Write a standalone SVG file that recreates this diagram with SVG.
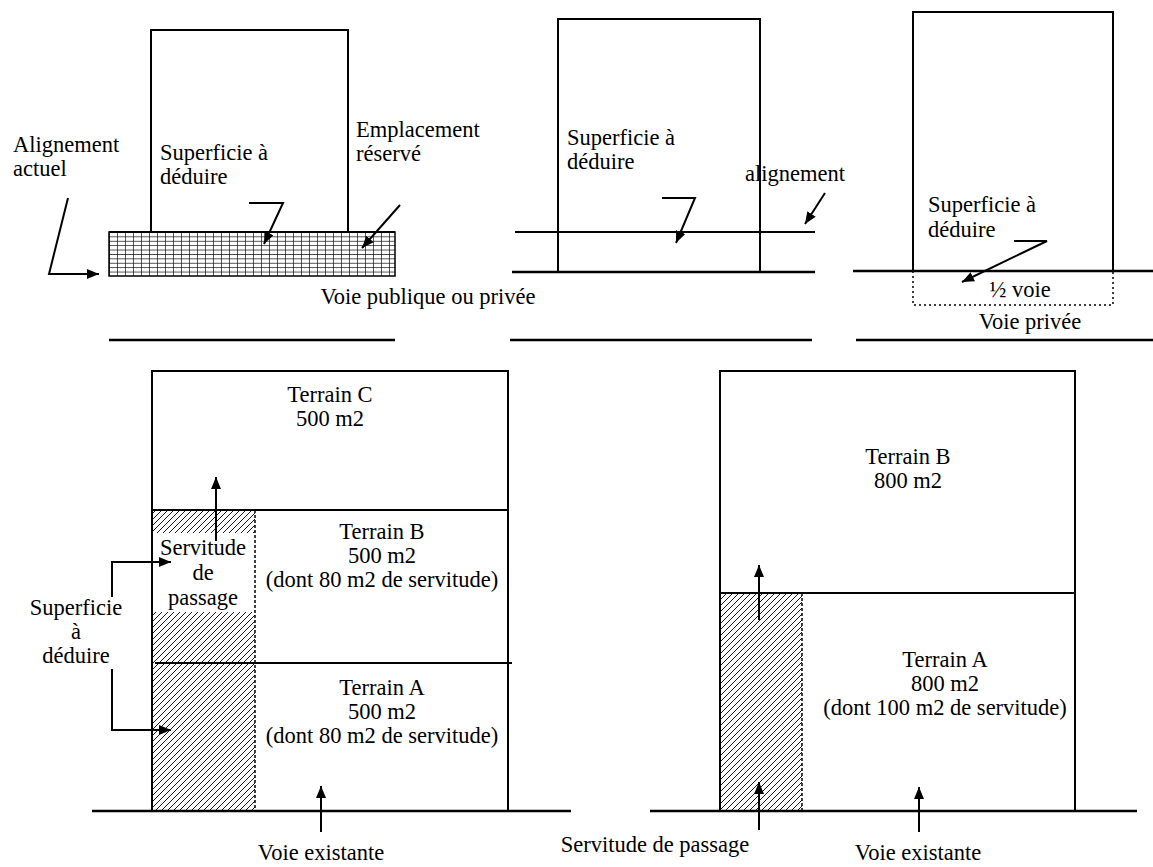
<svg xmlns="http://www.w3.org/2000/svg" width="1153" height="867" viewBox="0 0 1153 867">
<style>
.ln{stroke:#000;stroke-width:2;fill:none}
.gd{stroke:#000;stroke-width:2.4;fill:none}
.ds{stroke:#000;stroke-width:1.5;fill:none;stroke-dasharray:3,2}
.dt{stroke:#000;stroke-width:1.5;fill:none;stroke-dasharray:2,3}
.ar{stroke:#000;stroke-width:2;fill:none;marker-end:url(#ah)}
text{font-family:"Liberation Serif","Times New Roman",serif;font-size:22.5px;fill:#000}
.c{text-anchor:middle}
</style>
<defs>
<marker id="ah" markerUnits="userSpaceOnUse" markerWidth="13" markerHeight="10" refX="12" refY="5" orient="auto">
<path d="M0,0 L12,5 L0,10 z" fill="#000"/>
</marker>
<pattern id="grid" patternUnits="userSpaceOnUse" x="109" y="232" width="8" height="4.4">
<path d="M0,0 H8 M0,0 V4.4" stroke="#000" stroke-width="1.3" fill="none"/>
</pattern>
<pattern id="hatch" patternUnits="userSpaceOnUse" width="6" height="6">
<path d="M-1,1 L1,-1 M0,6 L6,0 M5,7 L7,5" stroke="#000" stroke-width="0.9"/>
</pattern>
</defs>
<rect width="1153" height="867" fill="#fff"/>

<g id="diagram1">
<rect x="151" y="30" width="197" height="202" class="ln"/>
<rect x="109" y="232" width="286" height="44" fill="url(#grid)" stroke="#000" stroke-width="1.5"/>
<line x1="109" y1="232" x2="395" y2="232" class="ln"/>
<line x1="109" y1="340" x2="395" y2="340" class="gd"/>
<text x="13" y="152">Alignement</text>
<text x="13" y="176">actuel</text>
<text x="160" y="160">Superficie à</text>
<text x="160" y="184">déduire</text>
<text x="356" y="137">Emplacement</text>
<text x="356" y="161">réservé</text>
</g>

<g id="label-voie-publique">
<text x="428" y="304" class="c">Voie publique ou privée</text>
</g>

<g id="diagram2">
<rect x="558" y="19" width="202" height="253" class="ln"/>
<line x1="515" y1="232" x2="815" y2="232" class="ln"/>
<line x1="512" y1="272" x2="815" y2="272" class="gd"/>
<line x1="510" y1="340" x2="812" y2="340" class="gd"/>
<text x="567" y="145">Superficie à</text>
<text x="567" y="169">déduire</text>
<text x="745" y="181">alignement</text>
</g>

<g id="diagram3">
<rect x="913" y="12" width="200" height="259" class="ln"/>
<line x1="853" y1="271" x2="1153" y2="271" class="gd"/>
<path d="M913,271 V305 H1113 V271" class="dt"/>
<line x1="856" y1="340" x2="1153" y2="340" class="gd"/>
<text x="928" y="212">Superficie à</text>
<text x="928" y="237">déduire</text>
<text x="1020" y="297" class="c">½  voie</text>
<text x="1030" y="329" class="c">Voie privée</text>
</g>

<g id="plan-left">
<rect x="152" y="510" width="103" height="301" fill="url(#hatch)"/>
<rect x="152" y="533" width="103" height="79" fill="#fff"/>
<line x1="255" y1="510" x2="255" y2="811" class="ds"/>
<line x1="152" y1="811" x2="255" y2="811" class="ds"/>
<rect x="152" y="371" width="356" height="440" class="ln"/>
<line x1="152" y1="510" x2="508" y2="510" class="ln"/>
<line x1="155" y1="663" x2="512" y2="663" class="ln"/>
<text x="330" y="402" class="c">Terrain C</text>
<text x="330" y="426" class="c">500 m2</text>
<text x="382" y="539" class="c">Terrain B</text>
<text x="382" y="563" class="c">500 m2</text>
<text x="382" y="587" class="c">(dont 80 m2 de servitude)</text>
<text x="382" y="695" class="c">Terrain A</text>
<text x="382" y="719" class="c">500 m2</text>
<text x="382" y="743" class="c">(dont 80 m2 de servitude)</text>
<text x="203" y="555" class="c">Servitude</text>
<text x="203" y="580" class="c">de</text>
<text x="203" y="605" class="c">passage</text>
<text x="76" y="615" class="c">Superficie</text>
<text x="76" y="639" class="c">à</text>
<text x="76" y="663" class="c">déduire</text>
<line x1="92" y1="811" x2="571" y2="811" class="gd"/>
<text x="321" y="860" class="c">Voie existante</text>
</g>

<g id="plan-right">
<rect x="720" y="593" width="82" height="218" fill="url(#hatch)"/>
<line x1="802" y1="593" x2="802" y2="811" class="ds"/>
<rect x="720" y="371" width="355" height="440" class="ln"/>
<line x1="720" y1="593" x2="1075" y2="593" class="ln"/>
<text x="908" y="464" class="c">Terrain B</text>
<text x="908" y="488" class="c">800 m2</text>
<text x="945" y="667" class="c">Terrain A</text>
<text x="945" y="691" class="c">800 m2</text>
<text x="945" y="715" class="c">(dont 100 m2 de servitude)</text>
<line x1="650" y1="811" x2="1137" y2="811" class="gd"/>
<text x="655" y="852" class="c">Servitude de passage</text>
<text x="918" y="860" class="c">Voie existante</text>
</g>

<g id="connectors">
<path d="M68,198 L49,274 L99,274" class="ar"/>
<path d="M249,203 L283,203 L264,244" class="ar"/>
<path d="M400,205 L362,248" class="ar"/>
<path d="M662,198 L695,198 L676,243" class="ar"/>
<path d="M825,193 L805,224" class="ar"/>
<path d="M1014,241 L1047,241 L962,282" class="ar"/>
<path d="M216,541 L216,477" class="ar"/>
<path d="M112,597 L112,562 L171,562" class="ar"/>
<path d="M112,669 L112,730 L171,730" class="ar"/>
<path d="M321,832 L321,786" class="ar"/>
<path d="M759,620 L759,565" class="ar"/>
<path d="M759,830 L759,782" class="ar"/>
<path d="M919,832 L919,787" class="ar"/>
</g>
</svg>
